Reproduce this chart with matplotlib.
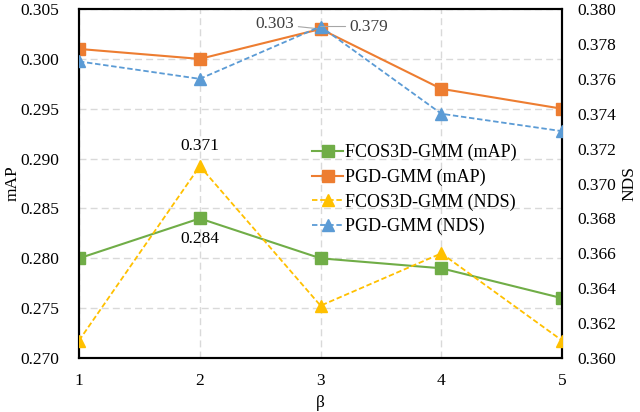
import matplotlib
matplotlib.use("Agg")
import matplotlib.pyplot as plt
from matplotlib.lines import Line2D

plt.rcParams['font.family'] = ['Liberation Serif', 'DejaVu Serif']

beta = [1, 2, 3, 4, 5]
fcos_map = [0.280, 0.284, 0.280, 0.279, 0.276]
pgd_map = [0.301, 0.300, 0.303, 0.297, 0.295]
fcos_nds = [0.361, 0.371, 0.363, 0.366, 0.361]
pgd_nds = [0.377, 0.376, 0.379, 0.374, 0.373]

map_ticks = [0.270, 0.275, 0.280, 0.285, 0.290, 0.295, 0.300, 0.305]
nds_ticks = [0.360, 0.362, 0.364, 0.366, 0.368, 0.370, 0.372, 0.374, 0.376, 0.378, 0.380]

GREEN = '#70AD47'
ORANGE = '#ED7D31'
YELLOW = '#FFC000'
BLUE = '#5B9BD5'
FS = 12.5

fig = plt.figure(figsize=(6.4, 4.12), dpi=100)
ax = fig.add_axes([0.1234, 0.131, 0.755, 0.847])
ax2 = ax.twinx()

dash = (0, (3, 1.5))
ax.plot(beta, fcos_map, color=GREEN, lw=1.5, marker='s', ms=8, zorder=3)
ax.plot(beta, pgd_map, color=ORANGE, lw=1.5, marker='s', ms=8, zorder=3)
ax2.plot(beta, fcos_nds, color=YELLOW, lw=1.3, ls=dash, marker='^', ms=9, zorder=3)
ax2.plot(beta, pgd_nds, color=BLUE, lw=1.3, ls=dash, marker='^', ms=9, zorder=3)

ax.set_xlim(1, 5)
ax.set_ylim(0.270, 0.305)
ax2.set_ylim(0.360, 0.380)
ax.set_xticks(beta)
ax.set_yticks(map_ticks)
ax.set_yticklabels([f'{t:.3f}' for t in map_ticks])
ax2.set_yticks(nds_ticks)
ax2.set_yticklabels([f'{t:.3f}' for t in nds_ticks])

ax.grid(True, color='#D9D9D9', ls=(0, (5, 3)), lw=1)
ax.set_axisbelow(True)
ax.tick_params(axis='y', length=0, labelsize=FS, pad=14)
ax.tick_params(axis='x', length=0, labelsize=FS, pad=11)
ax2.tick_params(length=0, labelsize=FS, pad=11)
for a in (ax, ax2):
    for s in a.spines.values():
        s.set_linewidth(1.5)
        s.set_color('black')

ax.set_xlabel('β', fontsize=FS, labelpad=4)
ax.set_ylabel('mAP', fontsize=FS, labelpad=0)
ax2.set_ylabel('NDS', fontsize=FS, labelpad=4)

# data labels
ax.annotate(f'{pgd_map[2]:.3f}', xy=(beta[2], pgd_map[2]), xytext=(-19, 3.5),
            textcoords='offset points', fontsize=FS, ha='right', va='center',
            color='#404040',
            arrowprops=dict(arrowstyle='-', color='#A6A6A6', lw=0.8, shrinkA=1, shrinkB=0))
ax2.annotate(f'{pgd_nds[2]:.3f}', xy=(beta[2], pgd_nds[2]), xytext=(21, 0),
             textcoords='offset points', fontsize=FS, ha='left', va='center',
             color='#404040',
             arrowprops=dict(arrowstyle='-', color='#A6A6A6', lw=0.8, shrinkA=1, shrinkB=0))
ax2.annotate(f'{fcos_nds[1]:.3f}', xy=(beta[1], fcos_nds[1]), xytext=(0, 9),
             textcoords='offset points', fontsize=FS, ha='center', va='bottom')
ax.annotate(f'{fcos_map[1]:.3f}', xy=(beta[1], fcos_map[1]), xytext=(0, -9),
            textcoords='offset points', fontsize=FS, ha='center', va='top')

handles = [
    Line2D([], [], color=GREEN, lw=1.5, marker='s', ms=8),
    Line2D([], [], color=ORANGE, lw=1.5, marker='s', ms=8),
    Line2D([], [], color=YELLOW, lw=1.3, ls=dash, marker='^', ms=9),
    Line2D([], [], color=BLUE, lw=1.3, ls=dash, marker='^', ms=9),
]
labels = ['FCOS3D-GMM (mAP)', 'PGD-GMM (mAP)', 'FCOS3D-GMM (NDS)', 'PGD-GMM (NDS)']
ax2.legend(handles, labels, loc='upper left', bbox_to_anchor=(0.473, 0.672),
           bbox_transform=fig.transFigure, frameon=False, fontsize=13,
           handlelength=1.75, handletextpad=0.1, labelspacing=0.4, borderpad=0)

fig.savefig('out.png', dpi=100)
